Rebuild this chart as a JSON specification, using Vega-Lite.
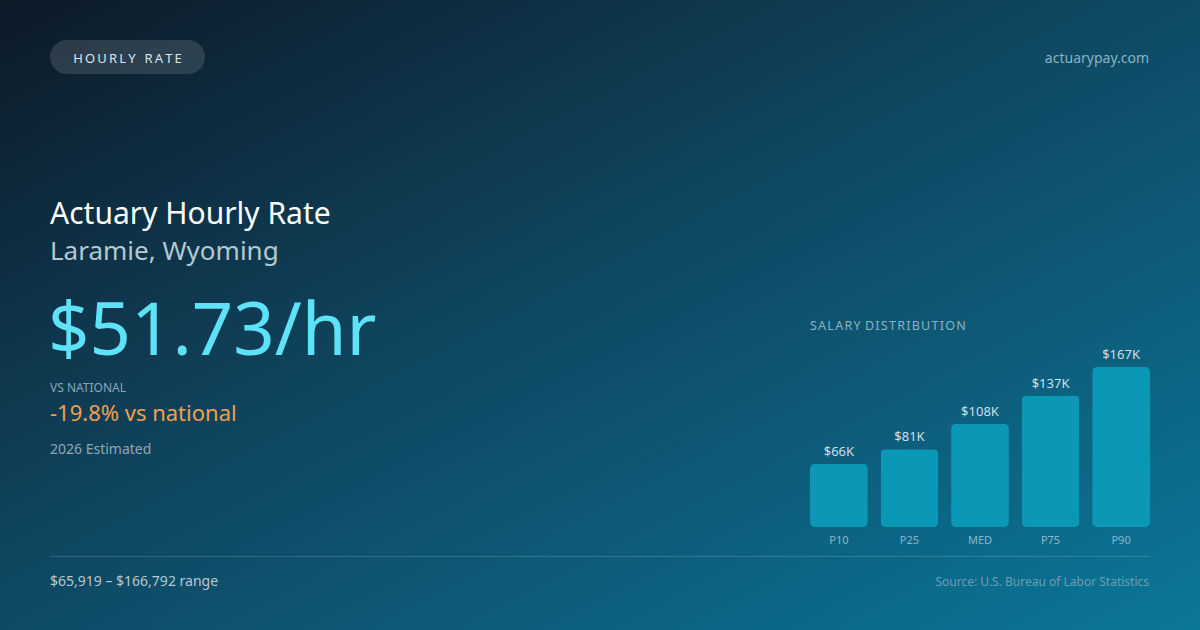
{
  "$schema": "https://vega.github.io/schema/vega-lite/v6.json",
  "width": 1200,
  "height": 630,
  "autosize": "none",
  "padding": 0,
  "background": "#0f2a3c",
  "config": {
    "view": {"stroke": null},
    "font": "Noto Sans",
    "text": {"font": "Noto Sans", "baseline": "alphabetic"}
  },
  "datasets": {
    "pct": [
      {"pct": "P10", "value": 65919, "label": "$66K"},
      {"pct": "P25", "value": 81000, "label": "$81K"},
      {"pct": "MED", "value": 107598, "label": "$108K"},
      {"pct": "P75", "value": 137000, "label": "$137K"},
      {"pct": "P90", "value": 166792, "label": "$167K"}
    ],
    "one": [{}]
  },
  "layer": [
    {
      "data": {"name": "one"},
      "mark": {
        "type": "rect",
        "fill": {
          "gradient": "linear",
          "x1": 0, "y1": 0, "x2": 1, "y2": 1,
          "stops": [
            {"offset": 0, "color": "#0d1927"},
            {"offset": 0.45, "color": "#0f4660"},
            {"offset": 1, "color": "#0b7799"}
          ]
        }
      },
      "encoding": {
        "x": {"value": 0},
        "x2": {"value": "width"},
        "y": {"value": 0},
        "y2": {"value": "height"}
      }
    },
    {
      "data": {"name": "one"},
      "mark": {"type": "rect", "x": 50, "x2": 205, "y": 40, "y2": 74, "cornerRadius": 17, "fill": "#ffffff", "fillOpacity": 0.13},
      "encoding": {}
    },
    {
      "data": {"name": "one"},
      "mark": {"type": "text", "x": 127.5, "y": 63, "baseline": "alphabetic", "text": "H\u2009O\u2009U\u2009R\u2009L\u2009Y\u00a0\u00a0\u2009R\u2009A\u2009T\u2009E", "align": "center", "fontSize": 13, "fill": "#dbe5ec"},
      "encoding": {}
    },
    {
      "data": {"name": "one"},
      "mark": {"type": "text", "x": 1149, "y": 63, "baseline": "alphabetic", "text": "actuarypay.com", "align": "right", "fontSize": 14, "fill": "#88b3c5"},
      "encoding": {}
    },
    {
      "data": {"name": "one"},
      "mark": {"type": "text", "x": 50, "y": 224, "baseline": "alphabetic", "text": "Actuary Hourly Rate", "align": "left", "fontSize": 30, "fill": "#ffffff"},
      "encoding": {}
    },
    {
      "data": {"name": "one"},
      "mark": {"type": "text", "x": 50, "y": 260, "baseline": "alphabetic", "text": "Laramie, Wyoming", "align": "left", "fontSize": 26, "fill": "#b4c8d3"},
      "encoding": {}
    },
    {
      "data": {"name": "one"},
      "mark": {"type": "text", "x": 48, "y": 355, "baseline": "alphabetic", "text": "$51.73/hr", "align": "left", "fontSize": 72.5, "fill": "#5ee2f7"},
      "encoding": {}
    },
    {
      "data": {"name": "one"},
      "mark": {"type": "text", "x": 50, "y": 392, "baseline": "alphabetic", "text": "VS NATIONAL", "align": "left", "fontSize": 12, "fill": "#8aa6b6"},
      "encoding": {}
    },
    {
      "data": {"name": "one"},
      "mark": {"type": "text", "x": 50, "y": 421, "baseline": "alphabetic", "text": "-19.8% vs national", "align": "left", "fontSize": 22, "fill": "#eea04c"},
      "encoding": {}
    },
    {
      "data": {"name": "one"},
      "mark": {"type": "text", "x": 50, "y": 454, "baseline": "alphabetic", "text": "2026 Estimated", "align": "left", "fontSize": 14, "fill": "#8ea8b6"},
      "encoding": {}
    },
    {
      "data": {"name": "one"},
      "mark": {"type": "text", "x": 810, "y": 330, "baseline": "alphabetic", "text": "S\u200aA\u200aL\u200aA\u200aR\u200aY\u00a0\u200aD\u200aI\u200aS\u200aT\u200aR\u200aI\u200aB\u200aU\u200aT\u200aI\u200aO\u200aN", "align": "left", "fontSize": 12.5, "fill": "#8fb2c3"},
      "encoding": {}
    },
    {
      "data": {"name": "one"},
      "mark": {"type": "rule", "stroke": "#ffffff", "strokeOpacity": 0.15, "strokeWidth": 1},
      "encoding": {
        "x": {"value": 50},
        "x2": {"value": 1150},
        "y": {"value": 556.5},
        "y2": {"value": 556.5}
      }
    },
    {
      "data": {"name": "one"},
      "mark": {"type": "text", "x": 50, "y": 586, "baseline": "alphabetic", "text": "$65,919 – $166,792 range", "align": "left", "fontSize": 14, "fill": "#b6c8d2"},
      "encoding": {}
    },
    {
      "data": {"name": "one"},
      "mark": {"type": "text", "x": 1149, "y": 586, "baseline": "alphabetic", "text": "Source: U.S. Bureau of Labor Statistics", "align": "right", "fontSize": 12, "fill": "#6a9fb5"},
      "encoding": {}
    },
    {
      "data": {"name": "pct"},
      "layer": [
        {
          "mark": {"type": "bar", "cornerRadius": 5, "color": "#0a98b6"},
          "encoding": {
            "x": {"field": "pct", "type": "nominal", "sort": null, "axis": null,
                  "scale": {"range": [810, 1150], "paddingInner": 0.18, "paddingOuter": 0}},
            "y": {"field": "value", "type": "quantitative", "axis": null,
                  "scale": {"domain": [0, 166792], "range": [527, 367], "nice": false}}
          }
        },
        {
          "mark": {"type": "text", "baseline": "alphabetic", "dy": -8, "fontSize": 13, "fill": "#cfdfe7"},
          "encoding": {
            "x": {"field": "pct", "type": "nominal", "sort": null, "axis": null},
            "y": {"field": "value", "type": "quantitative", "axis": null},
            "text": {"field": "label"}
          }
        },
        {
          "mark": {"type": "text", "baseline": "alphabetic", "fontSize": 11, "fill": "#8fb4c5"},
          "encoding": {
            "x": {"field": "pct", "type": "nominal", "sort": null, "axis": null},
            "y": {"value": 543.5},
            "text": {"field": "pct"}
          }
        }
      ]
    }
  ]
}
